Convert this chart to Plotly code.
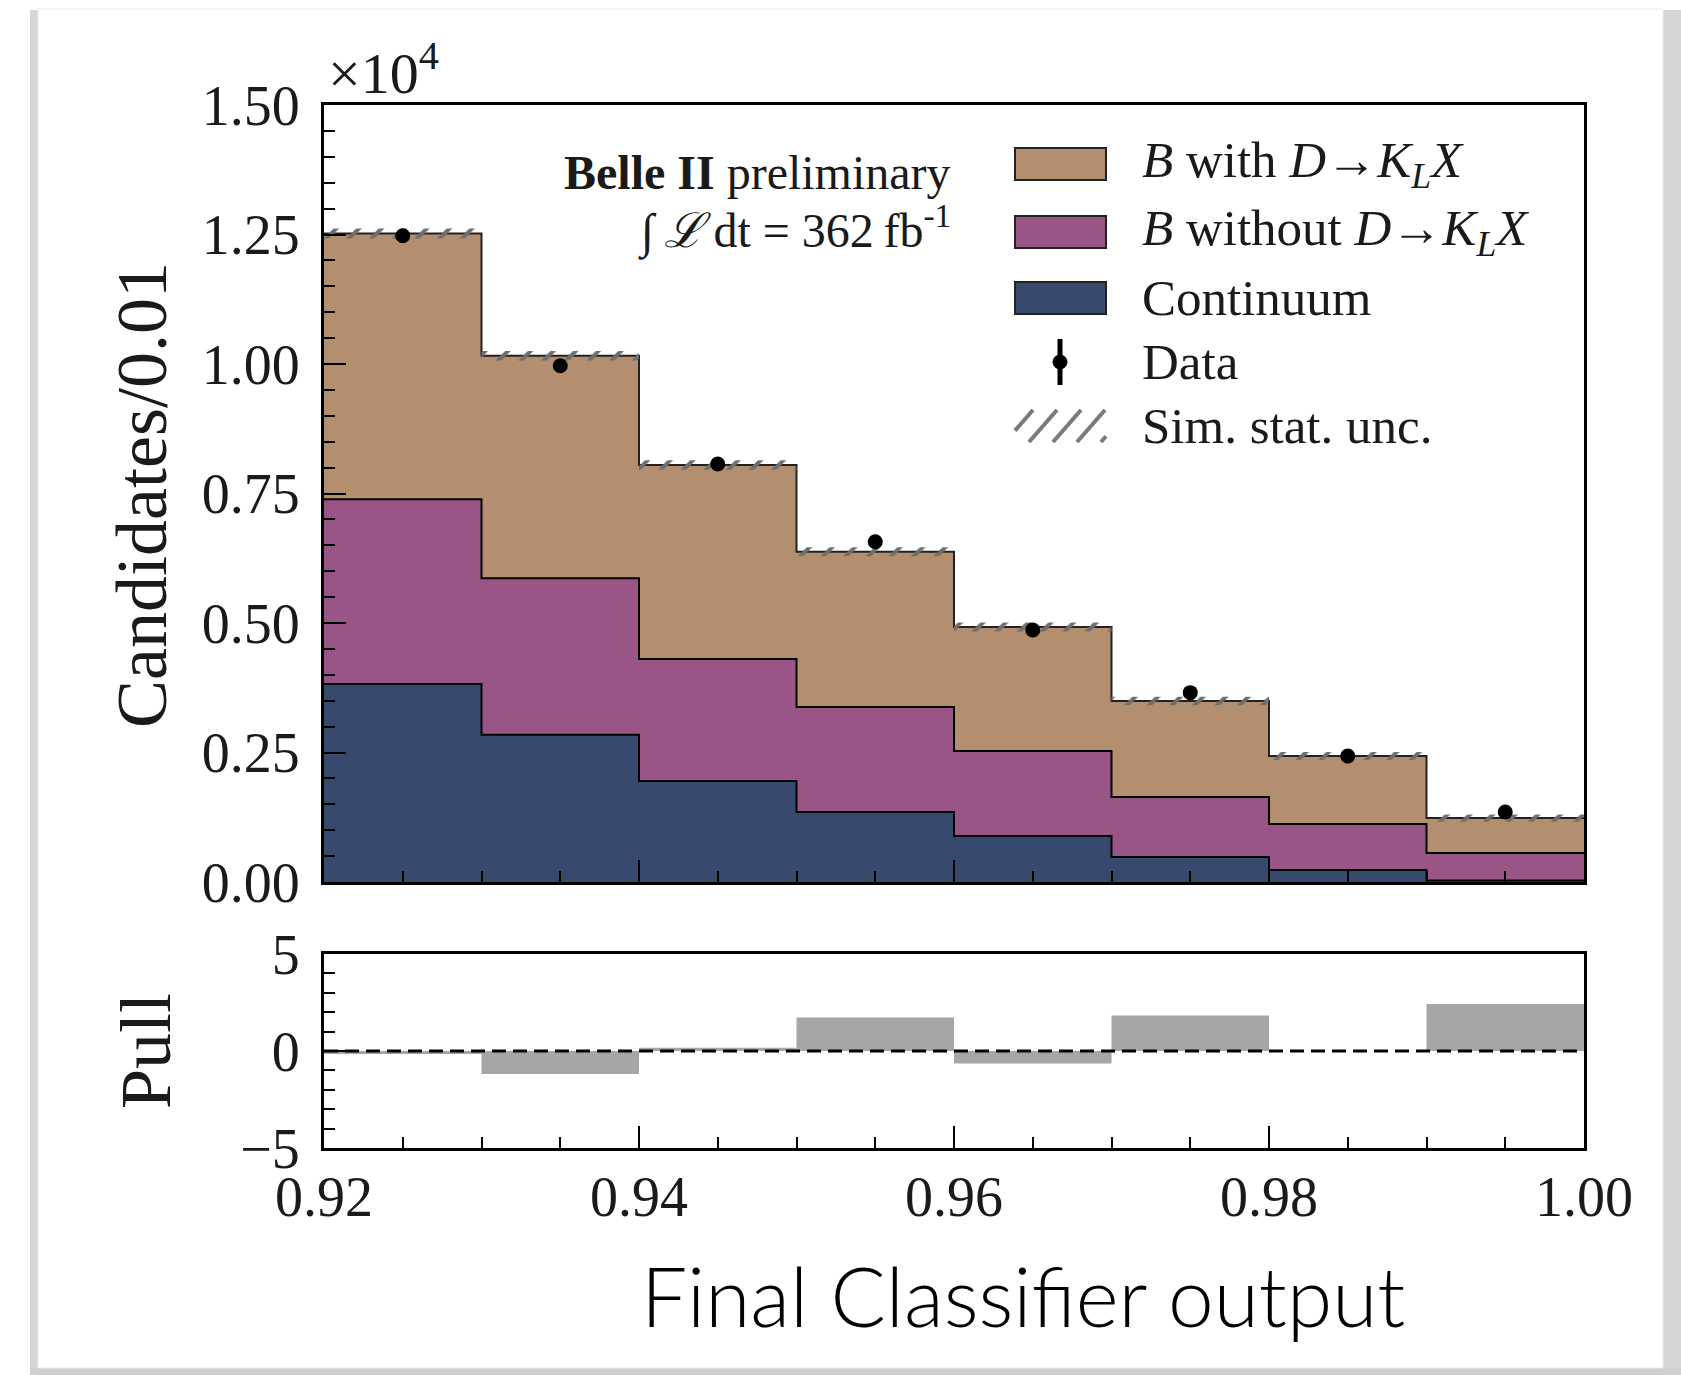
import plotly.graph_objects as go

W, H = 1681, 1375

# ---------------- data ----------------
bin_edges = [0.92, 0.93, 0.94, 0.95, 0.96, 0.97, 0.98, 0.99, 1.00]
continuum = [3820, 2842, 1950, 1351, 888, 483, 232, 30]
b_without = [3567, 3020, 2355, 2027, 1641, 1158, 888, 530]
b_with = [5133, 4298, 3745, 2998, 2394, 1853, 1312, 675]
sim_unc = [95, 92, 90, 88, 85, 82, 78, 70]
data_counts = [12476, 9967, 8070, 6569, 4865, 3655, 2432, 1350]
data_err = [112, 100, 90, 81, 70, 60, 49, 37]
pull = [-0.15, -1.18, 0.17, 1.73, -0.64, 1.83, 0.0, 2.42]

y_tickvals = [0, 2500, 5000, 7500, 10000, 12500, 15000]
y_ticktext = ["0.00", "0.25", "0.50", "0.75", "1.00", "1.25", "1.50"]
x_tickvals = [0.92, 0.94, 0.96, 0.98, 1.00]
x_ticktext = ["0.92", "0.94", "0.96", "0.98", "1.00"]
pull_tickvals = [-5, 0, 5]
pull_ticktext = ["\u22125", "0", "5"]

C_WITH = "#b48f6f"
C_WITHOUT = "#9a5587"
C_CONT = "#374a6e"
C_PULL = "#a6a6a6"
SERIF = "Liberation Serif"

def X(p):
    return p / W

def Y(p):
    return 1 - p / H

centers = [(bin_edges[i] + bin_edges[i + 1]) / 2 for i in range(len(bin_edges) - 1)]
lvl1 = list(continuum)
lvl2 = [a + b for a, b in zip(lvl1, b_without)]
lvl3 = [a + b for a, b in zip(lvl2, b_with)]

def step(vals):
    return list(vals) + [vals[-1]]

fig = go.Figure()

fig.add_trace(go.Scatter(x=bin_edges, y=step(lvl1), mode="lines", line_shape="hv",
                         line=dict(color="black", width=2), fill="tozeroy",
                         fillcolor=C_CONT, showlegend=False, xaxis="x", yaxis="y"))
fig.add_trace(go.Scatter(x=bin_edges, y=step(lvl2), mode="lines", line_shape="hv",
                         line=dict(color="black", width=2), fill="tonexty",
                         fillcolor=C_WITHOUT, showlegend=False, xaxis="x", yaxis="y"))
fig.add_trace(go.Scatter(x=bin_edges, y=step(lvl3), mode="lines", line_shape="hv",
                         line=dict(color="#222222", width=2), fill="tonexty",
                         fillcolor=C_WITH, showlegend=False, xaxis="x", yaxis="y"))

# hatched simulation uncertainty band (one rectangle per bin)
hx, hy = [], []
for i in range(len(centers)):
    lo, hi = bin_edges[i], bin_edges[i + 1]
    t = lvl3[i]
    e = sim_unc[i]
    hx += [lo, hi, hi, lo, lo, None]
    hy += [t - e, t - e, t + e, t + e, t - e, None]
fig.add_trace(go.Scatter(x=hx, y=hy, mode="lines", fill="toself",
                         line=dict(width=0, color="rgba(0,0,0,0)"),
                         fillcolor="rgba(0,0,0,0)",
                         fillpattern=dict(shape="/", fgcolor="#6e6e6e", bgcolor="rgba(0,0,0,0)",
                                          size=16, solidity=0.25),
                         showlegend=False, xaxis="x", yaxis="y"))

fig.add_trace(go.Scatter(x=centers, y=data_counts, mode="markers",
                         marker=dict(color="black", size=15),
                         error_y=dict(type="data", array=data_err, color="black", thickness=3, width=0),
                         showlegend=False, xaxis="x", yaxis="y"))

fig.add_trace(go.Bar(x=centers, y=pull, width=[0.01] * len(centers),
                     marker=dict(color=C_PULL, line=dict(width=0)),
                     showlegend=False, xaxis="x2", yaxis="y2"))

axis_common = dict(showline=True, mirror=True, linewidth=3, linecolor="black",
                   showgrid=False, zeroline=False, ticks="inside", tickwidth=2,
                   tickcolor="black", ticklen=22, automargin=False,
                   tickfont=dict(family=SERIF, size=56, color="#1a1a1a"))

xdom = [X(324), X(1584)]
fig.update_layout(
    template="none",
    width=W, height=H,
    autosize=False,
    margin=dict(l=0, r=0, t=0, b=0, pad=0, autoexpand=False),
    paper_bgcolor="white", plot_bgcolor="white",
    showlegend=False,
    xaxis=dict(domain=xdom, range=[0.92, 1.0], anchor="y", tickmode="array",
               tickvals=x_tickvals, showticklabels=False,
               minor=dict(ticks="inside", ticklen=11, tickwidth=2, tickcolor="black",
                          tickmode="linear", tick0=0.92, dtick=0.005, showgrid=False),
               **axis_common),
    yaxis=dict(domain=[Y(882), Y(105)], range=[0, 15000], anchor="x", tickmode="array",
               tickvals=y_tickvals, ticktext=y_ticktext, ticklabelstandoff=10,
               minor=dict(ticks="inside", ticklen=11, tickwidth=2, tickcolor="black",
                          tickmode="linear", tick0=0, dtick=500, showgrid=False),
               **axis_common),
    xaxis2=dict(domain=xdom, range=[0.92, 1.0], anchor="y2", tickmode="array",
                tickvals=x_tickvals, ticktext=x_ticktext, ticklabelstandoff=-2,
                minor=dict(ticks="inside", ticklen=11, tickwidth=2, tickcolor="black",
                           tickmode="linear", tick0=0.92, dtick=0.005, showgrid=False),
                **axis_common),
    yaxis2=dict(domain=[Y(1148), Y(954)], range=[-5, 5], anchor="x2", tickmode="array",
                tickvals=pull_tickvals, ticktext=pull_ticktext, ticklabelstandoff=10,
                minor=dict(ticks="inside", ticklen=11, tickwidth=2, tickcolor="black",
                           tickmode="linear", tick0=-5, dtick=1, showgrid=False),
                **axis_common),
)

shapes = []
# dashed zero line in pull panel
shapes.append(dict(type="line", xref="x2 domain", yref="y2", x0=0, x1=1, y0=0, y1=0,
                   line=dict(color="black", width=3, dash="14px,7px"), layer="above"))

# card shadows / border
shapes.append(dict(type="rect", xref="paper", yref="paper", x0=X(30), x1=X(38), y0=Y(1375), y1=Y(10),
                   fillcolor="#d6d6d6", line=dict(width=0), layer="below"))
shapes.append(dict(type="rect", xref="paper", yref="paper", x0=X(1663), x1=X(1681), y0=Y(1375), y1=Y(10),
                   fillcolor="#d6d6d6", line=dict(width=0), layer="below"))
shapes.append(dict(type="rect", xref="paper", yref="paper", x0=X(30), x1=X(1681), y0=Y(1375), y1=Y(1368),
                   fillcolor="#cfcfcf", line=dict(width=0), layer="below"))
shapes.append(dict(type="rect", xref="paper", yref="paper", x0=X(38), x1=X(1663), y0=Y(1368), y1=Y(9),
                   fillcolor="white", line=dict(width=1, color="#ececec"), layer="below"))

# manual legend
legend_rows = [164, 232, 298, 362, 426]
for yc, col in zip(legend_rows[:3], [C_WITH, C_WITHOUT, C_CONT]):
    shapes.append(dict(type="rect", xref="paper", yref="paper",
                       x0=X(1015), x1=X(1106), y0=Y(yc + 16), y1=Y(yc - 16),
                       fillcolor=col, line=dict(color="#222222", width=2)))
# data symbol
shapes.append(dict(type="line", xref="paper", yref="paper", x0=X(1060), x1=X(1060),
                   y0=Y(legend_rows[3] + 23), y1=Y(legend_rows[3] - 23),
                   line=dict(color="black", width=5)))
shapes.append(dict(type="circle", xref="paper", yref="paper", x0=X(1053), x1=X(1067),
                   y0=Y(legend_rows[3] + 7), y1=Y(legend_rows[3] - 7),
                   fillcolor="black", line=dict(color="black", width=1)))
# hatch symbol
yh = legend_rows[4]
for k in range(5):
    xs = 1005 + k * 24
    x0, x1 = xs, xs + 28
    y0, y1 = yh + 16, yh - 16
    if x0 < 1015:
        frac = (1015 - x0) / 28
        x0 = 1015
        y0 = y0 - frac * 32
    if x1 > 1106:
        frac = (x1 - 1106) / 28
        x1 = 1106
        y1 = y1 + frac * 32
    if x1 > x0:
        shapes.append(dict(type="line", xref="paper", yref="paper", x0=X(x0), x1=X(x1),
                           y0=Y(y0), y1=Y(y1), line=dict(color="#7a7a7a", width=4)))

fig.update_layout(shapes=shapes)

ann = []
leg_texts = [
    "<i>B</i> with <i>D</i>\u2192<i>K</i><sub><i>L</i></sub><i>X</i>",
    "<i>B</i> without <i>D</i>\u2192<i>K</i><sub><i>L</i></sub><i>X</i>",
    "Continuum",
    "Data",
    "Sim. stat. unc.",
]
for yc, t in zip(legend_rows, leg_texts):
    ann.append(dict(text=t, xref="paper", yref="paper", x=X(1140), y=Y(yc), xanchor="left",
                    yanchor="middle", showarrow=False,
                    font=dict(family=SERIF, size=51, color="#1a1a1a")))

ann.append(dict(text="<b>Belle II</b> preliminary", xref="paper", yref="paper", x=X(953), y=Y(172),
                xanchor="right", yanchor="middle", showarrow=False,
                font=dict(family=SERIF, size=48, color="#1a1a1a")))
ann.append(dict(text="\u222b\u2009<i>\u2112</i>\u2009dt = 362\u2009fb<sup>-1</sup>", xref="paper", yref="paper",
                x=X(953), y=Y(228), xanchor="right", yanchor="middle", showarrow=False,
                font=dict(family=SERIF, size=48, color="#1a1a1a")))
ann.append(dict(text="\u00d710<sup>4</sup>", xref="paper", yref="paper", x=X(326), y=Y(70),
                xanchor="left", yanchor="middle", showarrow=False,
                font=dict(family=SERIF, size=58, color="#1a1a1a")))
ann.append(dict(text="Candidates/0.01", xref="paper", yref="paper", x=X(142), y=Y(495),
                xanchor="center", yanchor="middle", textangle=-90, showarrow=False,
                font=dict(family=SERIF, size=72, color="#1a1a1a")))
ann.append(dict(text="Pull", xref="paper", yref="paper", x=X(146), y=Y(1051),
                xanchor="center", yanchor="middle", textangle=-90, showarrow=False,
                font=dict(family=SERIF, size=72, color="#1a1a1a")))
ann.append(dict(text="Final Classifier output", xref="paper", yref="paper", x=X(1023), y=Y(1295),
                xanchor="center", yanchor="middle", showarrow=False,
                font=dict(family="Lato", size=82, color="black", weight=300)))
fig.update_layout(annotations=ann)

fig.write_html("out.html")
